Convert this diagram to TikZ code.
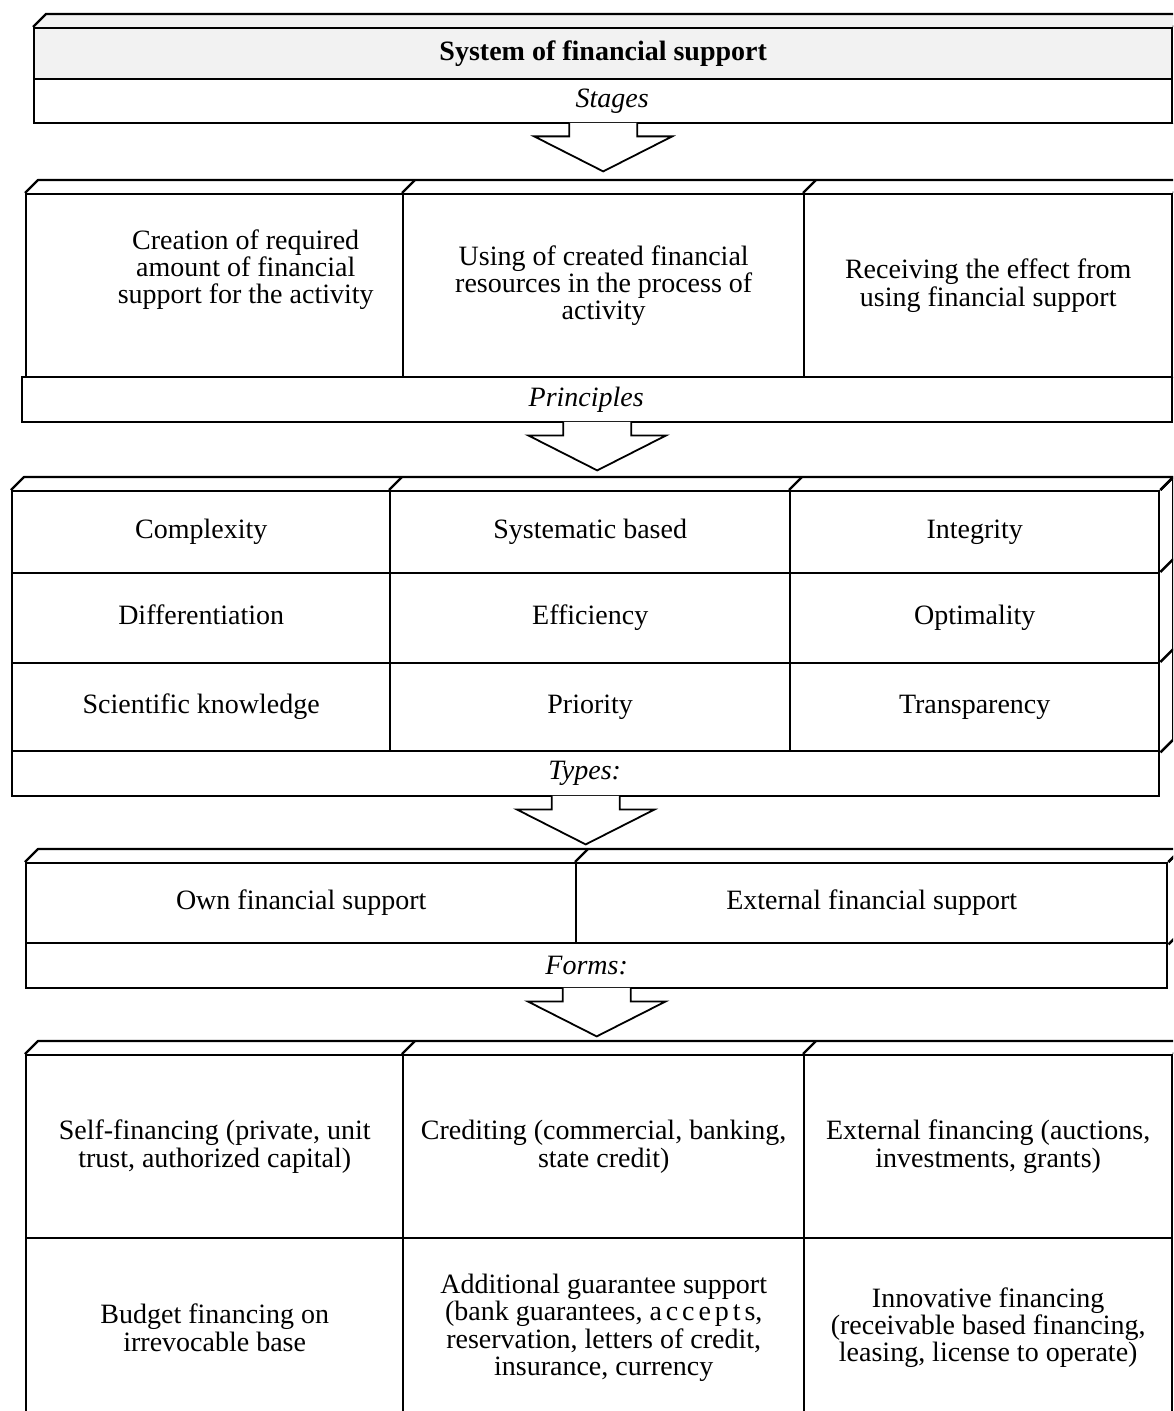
\documentclass[tikz,border=0pt]{standalone}
\usepackage{fontspec}
\setmainfont{Liberation Serif}
\usetikzlibrary{calc,positioning}

\tikzset{cell/.style 2 args={draw, line width=1.2pt, anchor=north west,
minimum width=#1*0.5pt, minimum height=#2*0.5pt, inner sep=0pt,
align=center, font=\fontsize{14}{13.6}\selectfont}}
\tikzset{one/.style={text height=9.5pt, text depth=3pt}}
\tikzset{band/.style 2 args={cell={#1}{#2}}}
\tikzset{face/.style={draw, line width=1.2pt, line join=round}}
\tikzset{hollow/.style={draw, line width=0.9pt, fill=white, line join=miter}}
\tikzset{txt/.style={align=center, inner sep=0pt, font=\fontsize{14}{13.6}\selectfont}}
\tikzset{bandtxt/.style={txt, font=\fontsize{14}{13.6}\selectfont\itshape}}

% big open arrow under a band
\newcommand{\bigdown}[1]{\draw[hollow] ($(#1.south)+(-34,-1.5)$) -- ++(0,13.5)
-- ++(-35,0) -- ++(69,35) -- ++(69,-35) -- ++(-35,0) -- ++(0,-13.5);}
% top face of a 3d block
\newcommand{\topface}[2]{\draw[face] (#1.north west) -- ++(13,-13)
-- ($(#2.north east)+(13,-13)$) -- (#2.north east);}
% right face of a 3d block
\newcommand{\sideface}[2]{\draw[face] (#1.north east) -- ++(13,-13)
-- ($(#2.south east)+(13,-13)$) -- (#2.south east);}

\begin{document}
\begin{tikzpicture}[x=0.5pt, y=-0.5pt]
\useasboundingbox (0,0) rectangle (1173,1411);
\clip (0,0) rectangle (1173,1411);

%% System
\node [cell={1138}{51}, fill=gray!10, font=\fontsize{14}{13.6}\selectfont\bfseries]
  (system) at (33,27) {System of financial support};
\node [band={1138}{44}] (stages) at (33,78) {};
\node [bandtxt] (stagestext) at ($(stages.center)+(9,0)$) {Stages};
\fill [gray!10] (system.north west) -- ++(13,-13) -- ($(system.north east)+(13,-13)$)
  -- (system.north east) -- cycle;
\topface{system}{system}
\sideface{system}{stages}
\bigdown{stages}

%% Stages
\node [cell={377}{183}] (stA) at (25,193) {};
\node [txt] (stAtext) at ($(stA.center)+(31,-16)$) {Creation of required\\
  amount of financial\\ support for the activity};
\node [cell={401}{183}] (stB) at (402,193) {Using of created financial\\
  resources in the process of\\ activity};
\node [cell={368}{183}] (stC) at (803,193) {Receiving the effect from\\
  using financial support};
\topface{stA}{stC}
\foreach \c in {stB,stC} \draw[face] (\c.north west) -- ++(13,-13);
\sideface{stC}{stC}
\node [band={1150}{45}] (principles) at (21,376) {};
\node [bandtxt] (principlestext) at ($(principles.center)+(-11,0)$) {Principles};
\bigdown{principles}

%% Principles
\node [cell={378}{82}, one] (prA1) at (11,490) {Complexity};
\node [cell={400}{82}, one] (prB1) at (389,490) {Systematic based};
\node [cell={369}{82}, one] (prC1) at (789,490) {Integrity};
\node [cell={378}{90}, one] (prA2) at (11,572) {Differentiation};
\node [cell={400}{90}, one] (prB2) at (389,572) {Efficiency};
\node [cell={369}{90}, one] (prC2) at (789,572) {Optimality};
\node [cell={378}{88}, one] (prA3) at (11,662) {Scientific knowledge};
\node [cell={400}{88}, one] (prB3) at (389,662) {Priority};
\node [cell={369}{88}, one] (prC3) at (789,662) {Transparency};
\topface{prA1}{prC1}
\foreach \c in {prB1,prC1} \draw[face] (\c.north west) -- ++(13,-13);
\sideface{prC1}{prC3}
\foreach \c in {prC2,prC3} \draw[face] (\c.north east) -- ++(13,-13);
\node [band={1147}{45}] (types) at (11,750) {};
\node [bandtxt] (typestext) at ($(types.center)+(-1,0)$) {Types:};
\bigdown{types}

%% Types
\node [cell={550}{80}, one] (tyA) at (25,862) {Own financial support};
\node [cell={591}{80}, one] (tyB) at (575,862) {External financial support};
\topface{tyA}{tyB}
\draw[face] (tyB.north west) -- ++(13,-13);
\sideface{tyB}{tyB}
\node [band={1141}{45}] (forms) at (25,942) {};
\node [bandtxt] (formstext) at ($(forms.center)+(-10,0)$) {Forms:};
\bigdown{forms}

%% Forms
\node [cell={377}{183}] (foA1) at (25,1054) {Self-financing (private, unit\\
  trust, authorized capital)};
\node [cell={401}{183}] (foB1) at (402,1054) {Crediting (commercial, banking,\\
  state credit)};
\node [cell={368}{183}] (foC1) at (803,1054) {External financing (auctions,\\
  investments, grants)};
\node [cell={377}{179}] (foA2) at (25,1237) {Budget financing on\\
  irrevocable base};
\node [cell={401}{179}] (foB2) at (402,1237) {Additional guarantee support\\
  (bank guarantees, {\addfontfeature{LetterSpace=14}accepts},\\
  reservation, letters of credit,\\ insurance, currency};
\node [cell={368}{179}] (foC2) at (803,1237) {Innovative financing\\
  (receivable based financing,\\ leasing, license to operate)};
\topface{foA1}{foC1}
\foreach \c in {foB1,foC1} \draw[face] (\c.north west) -- ++(13,-13);
\sideface{foC1}{foC2}
\end{tikzpicture}
\end{document}
